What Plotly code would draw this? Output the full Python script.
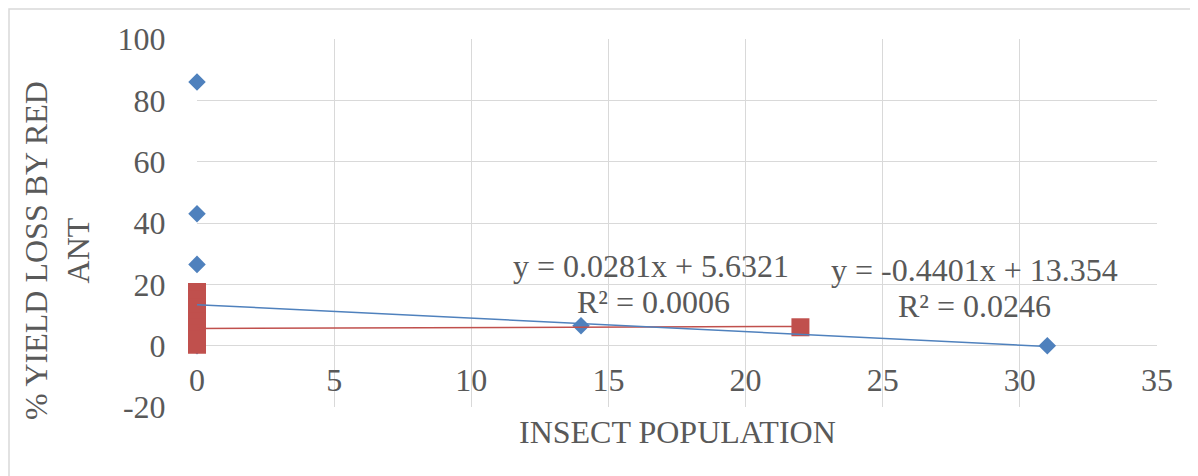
import plotly.graph_objects as go

# ---- data ----
blue_x = [0, 0, 0, 0, 0, 0, 0, 14, 31]
blue_y = [86, 43, 26.5, 15, 10, 4, 0, 6.5, 0]
red_x = [0, 0, 0, 0, 0, 0, 0, 0, 0, 22]
red_y = [17.5, 15, 12.5, 10, 8, 6, 4, 2, 0.3, 6]

blue_slope, blue_intercept = -0.4401, 13.354
red_slope, red_intercept = 0.0281, 5.6321

blue_eq = "y = -0.4401x + 13.354"
blue_r2 = "R² = 0.0246"
red_eq = "y = 0.0281x + 5.6321"
red_r2 = "R² = 0.0006"

x_ticks = [0, 5, 10, 15, 20, 25, 30, 35]
y_ticks = [-20, 0, 20, 40, 60, 80, 100]
y_tick_text = ["-20", "0", "20", "40", "60", "80", "100"]

x_title = "INSECT POPULATION"
y_title = "% YIELD LOSS BY RED<br>ANT"

BLUE = "#4F81BD"
RED = "#C0504D"
GRID = "#D9D9D9"
TXT = "#595959"
FONT = "Liberation Serif"
FS = 32

# page has an 8px body margin; figure is sized to fill the rest
OFF = 8
W, H = 1198 - OFF, 476 - OFF
# plot area in page pixels
PL, PR, PT, PB = 197, 1157, 39, 407
L, T = PL - OFF, PT - OFF
R, B = W - (PR - OFF), H - (PB - OFF)

fig = go.Figure()
fig.add_trace(go.Scatter(x=blue_x, y=blue_y, mode="markers", cliponaxis=False,
                         marker=dict(symbol="diamond", size=13.5, color=BLUE),
                         showlegend=False, hoverinfo="x+y"))
fig.add_trace(go.Scatter(x=red_x, y=red_y, mode="markers", cliponaxis=False,
                         marker=dict(symbol="square", size=18, color=RED),
                         showlegend=False, hoverinfo="x+y"))

bx = [min(blue_x), max(blue_x)]
rx = [min(red_x), max(red_x)]
fig.add_trace(go.Scatter(x=rx, y=[red_slope * v + red_intercept for v in rx],
                         mode="lines", line=dict(color=RED, width=1.5), cliponaxis=False,
                         showlegend=False, hoverinfo="skip"))
fig.add_trace(go.Scatter(x=bx, y=[blue_slope * v + blue_intercept for v in bx],
                         mode="lines", line=dict(color=BLUE, width=1.5), cliponaxis=False,
                         showlegend=False, hoverinfo="skip"))

ymin, ymax = -20, 100
fig.update_layout(
    width=W, height=H,
    margin=dict(l=L, r=R, t=T, b=B, autoexpand=False),
    paper_bgcolor="white", plot_bgcolor="white",
    font=dict(family=FONT, size=FS, color=TXT),
    xaxis=dict(range=[0, 35], tickvals=x_ticks, showgrid=True, gridcolor=GRID, gridwidth=1.3,
               zeroline=False, showline=False, anchor="free", automargin=False,
               position=(0 - ymin) / (ymax - ymin),
               ticks="outside", ticklen=6, tickcolor="rgba(0,0,0,0)",
               tickfont=dict(family=FONT, size=FS, color=TXT)),
    yaxis=dict(range=[ymin, ymax], tickvals=y_ticks, ticktext=y_tick_text,
               showgrid=True, gridcolor=GRID, gridwidth=1.3, automargin=False,
               zeroline=False, showline=False,
               ticks="outside", ticklen=24, tickcolor="rgba(0,0,0,0)",
               tickfont=dict(family=FONT, size=FS, color=TXT)),
)

def px2paper(xp, yp):
    return (xp - PL) / (PR - PL), (PB - yp) / (PB - PT)

def label(text, xp, yp, angle=0):
    ax_, ay_ = px2paper(xp, yp)
    fig.add_annotation(x=ax_, y=ay_, xref="paper", yref="paper", text=text,
                       xanchor="center", yanchor="middle", textangle=angle,
                       showarrow=False, font=dict(family=FONT, size=FS, color=TXT))

# axis titles
label(x_title, 677, 432)
label(y_title, 57, 251, angle=-90)

# trendline labels
label(red_eq, 651, 266)
label(red_r2, 653, 302)
label(blue_eq, 974, 270)
label(blue_r2, 974, 306)

# chart border
x0, y1 = px2paper(9, 9)
x1, y0 = px2paper(1191, 500)
fig.add_shape(type="rect", xref="paper", yref="paper", x0=x0, x1=x1, y0=y0, y1=y1,
              line=dict(color=GRID, width=1.5), layer="below")

fig.write_html("out.html")
